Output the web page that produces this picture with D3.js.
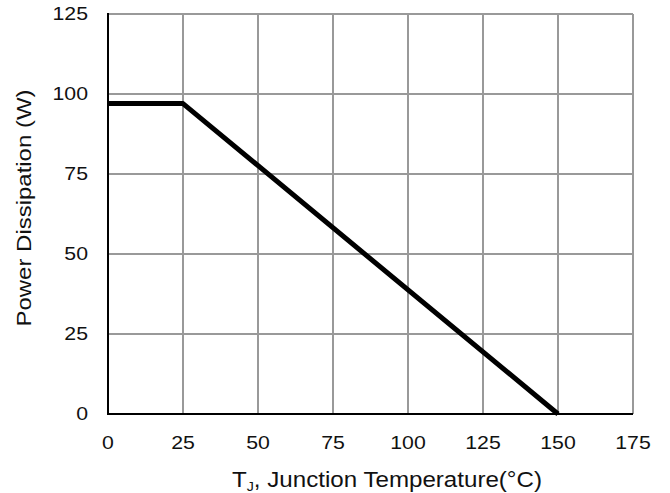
<!DOCTYPE html>
<html>
<head>
<meta charset="utf-8">
<script src="https://cdn.jsdelivr.net/npm/d3@7"></script>
<style>
  body { margin: 0; background: #fff; }
  text { font-family: 'Liberation Sans', Arial, sans-serif; }
</style>
</head>
<body>
<div id="chart"></div>
<script>
// derating curve values
const temps = [0, 25, 150]
const power = [97, 97, 0]
const xTicks = [0, 25, 50, 75, 100, 125, 150, 175]
const yTicks = [0, 25, 50, 75, 100, 125]

const width = 670
const height = 493
const margin = { top: 14, right: 37, bottom: 79, left: 108 }

const svg = d3.select('#chart')
  .append('svg')
  .attr('width', width)
  .attr('height', height)

const x = d3.scaleLinear().domain([0, 175]).range([margin.left, width - margin.right])
const y = d3.scaleLinear().domain([0, 125]).range([height - margin.bottom, margin.top])

// grid
svg.append('g')
  .selectAll('line')
  .data(xTicks.slice(1))
  .join('line')
  .attr('x1', d => x(d)).attr('x2', d => x(d))
  .attr('y1', y(0)).attr('y2', y(125))
  .attr('stroke', '#999')
  .attr('stroke-width', 2)

svg.append('g')
  .selectAll('line')
  .data(yTicks.slice(1))
  .join('line')
  .attr('x1', x(0)).attr('x2', x(175))
  .attr('y1', d => y(d)).attr('y2', d => y(d))
  .attr('stroke', '#999')
  .attr('stroke-width', 2)

// axes lines (black left + bottom)
svg.append('line')
  .attr('x1', x(0)).attr('x2', x(0))
  .attr('y1', y(125) - 1).attr('y2', y(0) + 1)
  .attr('stroke', '#000').attr('stroke-width', 2)
svg.append('line')
  .attr('x1', x(0) - 1).attr('x2', x(175))
  .attr('y1', y(0)).attr('y2', y(0))
  .attr('stroke', '#000').attr('stroke-width', 2)

// tick labels
svg.append('g')
  .selectAll('text')
  .data(xTicks)
  .join('text')
  .attr('x', d => x(d))
  .attr('y', y(0) + 35)
  .attr('text-anchor', 'middle')
  .attr('font-size', 19)
  .attr('fill', '#111')
  .attr('transform', d => `translate(${x(d)},0) scale(1.12,1) translate(${-x(d)},0)`)
  .text(d => d)

svg.append('g')
  .selectAll('text')
  .data(yTicks)
  .join('text')
  .attr('x', 0)
  .attr('y', d => y(d) + 6.5)
  .attr('text-anchor', 'end')
  .attr('font-size', 19)
  .attr('fill', '#111')
  .attr('transform', 'translate(88,0) scale(1.12,1)')
  .text(d => d)

// curve
const line = d3.line()
  .x((d, i) => x(temps[i]))
  .y((d, i) => y(power[i]))

svg.append('path')
  .datum(temps)
  .attr('d', line)
  .attr('fill', 'none')
  .attr('stroke', '#000')
  .attr('stroke-width', 5)
  .attr('stroke-linejoin', 'round')

// axis titles
const xTitle = svg.append('text')
  .attr('x', 387)
  .attr('y', height - 6)
  .attr('text-anchor', 'middle')
  .attr('font-size', 22)
  .attr('fill', '#111')
  .attr('textLength', 310)
  .attr('lengthAdjust', 'spacingAndGlyphs')
xTitle.append('tspan').text('T')
xTitle.append('tspan').attr('font-size', 13).attr('dy', 4).text('J')
xTitle.append('tspan').attr('dy', -4).text(', Junction Temperature(°C)')

svg.append('text')
  .attr('transform', `translate(31, 208) rotate(-90)`)
  .attr('text-anchor', 'middle')
  .attr('font-size', 21)
  .attr('fill', '#111')
  .attr('textLength', 237)
  .attr('lengthAdjust', 'spacingAndGlyphs')
  .text('Power Dissipation (W)')
</script>
</body>
</html>
